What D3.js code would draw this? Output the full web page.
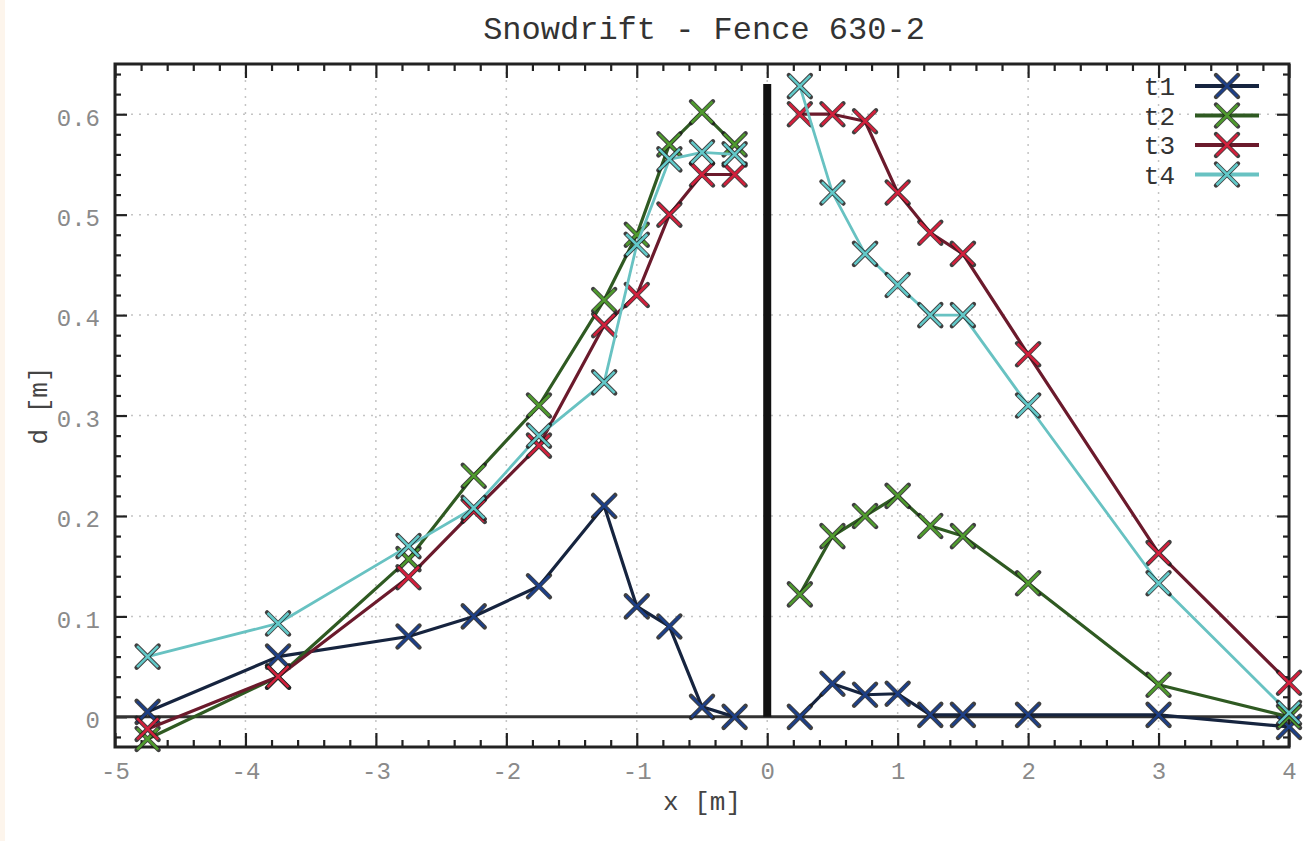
<!DOCTYPE html>
<html>
<head>
<meta charset="utf-8">
<script src="https://cdn.jsdelivr.net/npm/d3@7.9.0/dist/d3.min.js"></script>
<style>
  html, body { margin: 0; padding: 0; background: #fff; }
  svg text { font-family: "Liberation Mono", "DejaVu Sans Mono", monospace; }
</style>
</head>
<body>
<svg id="chart" width="1309" height="841"></svg>
<script>
// measurement positions along the fence [m]
const xPositions = [-4.75, -3.75, -2.75, -2.25, -1.75, -1.25, -1, -0.75, -0.5, -0.25,
                    0.25, 0.5, 0.75, 1, 1.25, 1.5, 2, 3, 4];

// snow depth d [m] for each time step
const t1 = [0.005, 0.06, 0.08, 0.10, 0.13, 0.21, 0.11, 0.09, 0.01, 0.0,
            0.0, 0.033, 0.022, 0.023, 0.002, 0.002, 0.002, 0.002, -0.01];
const t2 = [-0.022, 0.04, 0.157, 0.24, 0.31, 0.415, 0.48, 0.57, 0.602, 0.57,
            0.122, 0.18, 0.20, 0.22, 0.19, 0.18, 0.133, 0.032, 0.0];
const t3 = [-0.012, 0.04, 0.139, 0.205, 0.27, 0.39, 0.42, 0.50, 0.54, 0.54,
            0.60, 0.60, 0.593, 0.522, 0.482, 0.461, 0.361, 0.163, 0.034];
const t4 = [0.06, 0.093, 0.17, 0.208, 0.28, 0.333, 0.47, 0.555, 0.562, 0.56,
            0.628, 0.522, 0.461, 0.43, 0.40, 0.40, 0.31, 0.133, 0.004];

const seriesNames = ['t1', 't2', 't3', 't4'];
const seriesValues = [t1, t2, t3, t4];
const markerColors = ['#1d3f86', '#4f9a2e', '#d2203c', '#62c9c9'];
const lineColors = ['#16243f', '#2f5a22', '#6b1a2c', '#68c2c2'];

const xTickValues = [-5, -4, -3, -2, -1, 0, 1, 2, 3, 4];
const yTickValues = [0, 0.1, 0.2, 0.3, 0.4, 0.5, 0.6];
const fenceTop = 0.63;

const title = 'Snowdrift - Fence 630-2';
const xLabel = 'x [m]';
const yLabel = 'd [m]';

const svg = d3.select('#chart');
const plotLeft = 115, plotRight = 1289, plotTop = 64, plotBottom = 747;

const x = d3.scaleLinear().domain([-5, 4]).range([plotLeft, plotRight]);
const y = d3.scaleLinear().domain([-0.03, 0.65]).range([plotBottom, plotTop]);

// faint paper edge
svg.append('rect').attr('x', 0).attr('y', 0).attr('width', 5).attr('height', 841).attr('fill', '#fdf5ec');

// grid
const grid = svg.append('g').attr('stroke', '#c4c4c4').attr('stroke-width', 1.5).attr('stroke-dasharray', '2,6');
xTickValues.slice(1, -1).forEach((v) => {
  grid.append('line').attr('x1', x(v)).attr('x2', x(v)).attr('y1', plotTop).attr('y2', plotBottom);
});
yTickValues.slice(1).forEach((v) => {
  grid.append('line').attr('x1', plotLeft).attr('x2', plotRight).attr('y1', y(v)).attr('y2', y(v));
});

// ticks on all four sides, pointing inward
const minorX = x.ticks(45).filter((v) => !xTickValues.includes(v));
const minorY = y.ticks(34).filter((v) => !yTickValues.some((t) => Math.abs(t - v) < 1e-9));

function tickAxis(axisFn, scale, translate, values, size) {
  svg.append('g')
    .attr('transform', translate)
    .call(axisFn(scale).tickValues(values).tickSize(size).tickFormat(''))
    .call((g) => g.select('.domain').remove())
    .call((g) => g.selectAll('line').attr('stroke', '#222').attr('stroke-width', 2.2));
}
tickAxis(d3.axisTop, x, `translate(0,${plotBottom})`, xTickValues, 14);
tickAxis(d3.axisTop, x, `translate(0,${plotBottom})`, minorX, 7);
tickAxis(d3.axisBottom, x, `translate(0,${plotTop})`, xTickValues, 14);
tickAxis(d3.axisBottom, x, `translate(0,${plotTop})`, minorX, 7);
tickAxis(d3.axisRight, y, `translate(${plotLeft},0)`, yTickValues, 12);
tickAxis(d3.axisRight, y, `translate(${plotLeft},0)`, minorY, 6);
tickAxis(d3.axisLeft, y, `translate(${plotRight},0)`, yTickValues, 12);
tickAxis(d3.axisLeft, y, `translate(${plotRight},0)`, minorY, 6);

// tick labels (plain hyphen minus, as in the original)
svg.append('g')
  .attr('transform', `translate(0,${plotBottom})`)
  .call(d3.axisBottom(x).tickValues(xTickValues).tickSize(0).tickPadding(15).tickFormat((d) => String(d)))
  .call((g) => g.select('.domain').remove())
  .call((g) => g.selectAll('text').attr('fill', '#8a8a8a').attr('font-size', 24)
    .attr('font-family', '"Liberation Mono", monospace'));

svg.append('g')
  .attr('transform', `translate(${plotLeft},0)`)
  .call(d3.axisLeft(y).tickValues(yTickValues).tickSize(0).tickPadding(15)
    .tickFormat((d) => (d === 0 ? '0' : d3.format('.1f')(d))))
  .call((g) => g.select('.domain').remove())
  .call((g) => g.selectAll('text').attr('fill', '#8a8a8a').attr('font-size', 24)
    .attr('font-family', '"Liberation Mono", monospace').attr('dy', '0.45em'));

// zero line
svg.append('line')
  .attr('x1', plotLeft).attr('x2', plotRight).attr('y1', y(0)).attr('y2', y(0))
  .attr('stroke', '#333').attr('stroke-width', 3);

// fence
svg.append('line')
  .attr('x1', x(0)).attr('x2', x(0)).attr('y1', y(0)).attr('y2', y(fenceTop))
  .attr('stroke', '#111').attr('stroke-width', 8);

// frame
svg.append('rect')
  .attr('x', plotLeft).attr('y', plotTop).attr('width', plotRight - plotLeft).attr('height', plotBottom - plotTop)
  .attr('fill', 'none').attr('stroke', '#222').attr('stroke-width', 3);

const crossPath = (s) => `M${-s},${-s}L${s},${s}M${-s},${s}L${s},${-s}`;

function drawMarker(g, cx, cy, i) {
  const m = g.append('g').attr('transform', `translate(${cx},${cy})`);
  m.append('path').attr('d', crossPath(11)).attr('stroke', '#1f1f1f').attr('stroke-width', 4.4)
    .attr('stroke-linecap', 'round').attr('fill', 'none').attr('opacity', 0.85);
  m.append('path').attr('d', crossPath(10.5)).attr('stroke', markerColors[i]).attr('stroke-width', 2.6).attr('fill', 'none');
}

const line = d3.line().x((d) => x(d[0])).y((d) => y(d[1]));
const leftSide = (arr) => xPositions.map((p, k) => [p, arr[k]]).filter((d) => d[0] < 0);
const rightSide = (arr) => xPositions.map((p, k) => [p, arr[k]]).filter((d) => d[0] > 0);

seriesValues.forEach((vals, i) => {
  const g = svg.append('g');
  [leftSide(vals), rightSide(vals)].forEach((part) => {
    g.append('path')
      .attr('d', line(part))
      .attr('fill', 'none')
      .attr('stroke', lineColors[i])
      .attr('stroke-width', i === 3 ? 2.8 : 3.2)
      .attr('stroke-linejoin', 'round');
  });
  xPositions.forEach((p, k) => drawMarker(g, x(p), y(vals[k]), i));
});

// legend
const legend = svg.append('g');
seriesNames.forEach((name, i) => {
  const ly = 86 + i * 29.5;
  legend.append('text')
    .attr('x', 1175).attr('y', ly).attr('dy', '0.35em')
    .attr('text-anchor', 'end').attr('font-size', 26).attr('fill', '#333')
    .text(name);
  legend.append('line')
    .attr('x1', 1195).attr('x2', 1259).attr('y1', ly).attr('y2', ly)
    .attr('stroke', lineColors[i]).attr('stroke-width', 4);
  drawMarker(legend, 1227, ly, i);
});

// title and axis labels
svg.append('text')
  .attr('x', 704).attr('y', 28).attr('dy', '0.35em')
  .attr('text-anchor', 'middle').attr('font-size', 32).attr('fill', '#333')
  .text(title);

svg.append('text')
  .attr('x', 702).attr('y', 801).attr('dy', '0.35em')
  .attr('text-anchor', 'middle').attr('font-size', 26).attr('fill', '#444')
  .text(xLabel);

svg.append('text')
  .attr('transform', `translate(38,${(plotTop + plotBottom) / 2}) rotate(-90)`)
  .attr('dy', '0.35em')
  .attr('text-anchor', 'middle').attr('font-size', 26).attr('fill', '#444')
  .text(yLabel);
</script>
</body>
</html>
